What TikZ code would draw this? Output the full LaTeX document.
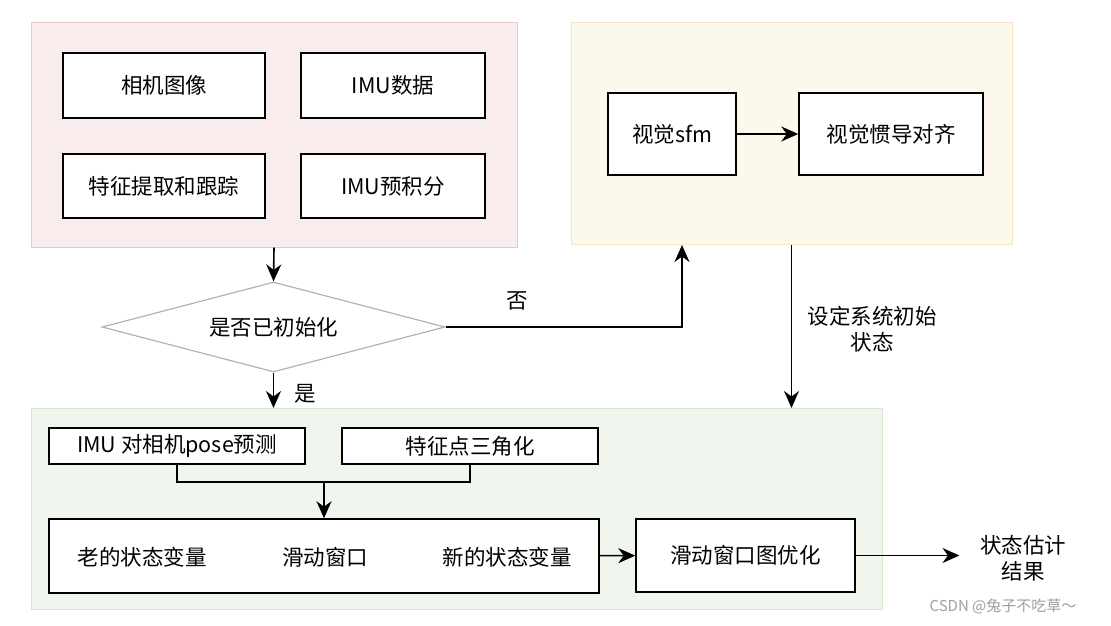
\documentclass[tikz,border=0pt]{standalone}
\usepackage{fontspec}
\setmainfont{Noto Sans CJK SC}
\usepackage{tikz}
\usetikzlibrary{arrows.meta,shapes.geometric,calc}
\definecolor{pinkfill}{RGB}{249,236,236}
\definecolor{pinkline}{RGB}{236,198,198}
\definecolor{yellowfill}{RGB}{253,248,236}
\definecolor{yellowline}{RGB}{246,229,196}
\definecolor{greenfill}{RGB}{240,246,238}
\definecolor{greenline}{RGB}{214,232,212}
\definecolor{diamondline}{RGB}{178,178,178}
\tikzstyle{panel}=[rectangle,draw,line width=1pt,inner sep=0pt]
\tikzstyle{block}=[rectangle,draw=black,fill=white,line width=1.5pt,inner sep=0pt]
\tikzstyle{decision}=[diamond,draw=diamondline,line width=1.2pt,inner sep=0pt,aspect=3.8,minimum width=343pt,minimum height=90pt]
\tikzstyle{edge} = [draw,line width=1.6pt,-{Stealth[length=17pt,width=15pt,inset=5.5pt]}]
\tikzstyle{link} = [draw,line width=1.6pt]
\tikzstyle{weight} = [align=center]

\begin{document}
\begin{tikzpicture}[x=1pt,y=-1pt,every node/.style={font=\fontsize{21.5}{26}\selectfont}]
    \useasboundingbox (0,0) rectangle (1111,625);
    % First we draw the three panels
    \foreach \pos/ \name/ \w/ \h/ \col in {{(274,134.5)/pink/486/225/pink},{(791.5,133.5)/yellow/441/222/yellow},{(456.5,509)/green/851/201/green}}
        \node[panel,draw=\col line,fill=\col fill,minimum width=\w,minimum height=\h] (\name) at \pos {};

    % Then the boxes inside them
    \foreach \pos/ \name/ \w/ \h/ \txt in {{(164,85.5)/camera/202/65/相机图像},{(393,85.5)/imu/184/65/IMU数据},
        {(164,186)/track/202/64/特征提取和跟踪},{(393,186)/preint/184/64/IMU预积分},
        {(672,134)/sfm/128/82/视觉sfm},{(891,134)/align/184/82/视觉惯导对齐},
        {(177,446)/pose/256/36/IMU 对相机pose预测},{(470,446)/tri/256/36/特征点三角化},
        {(324,556)/window/550/74/{}},{(745.5,555.5)/opt/219/73/滑动窗口图优化}}
        \node[block,minimum width=\w,minimum height=\h] (\name) at \pos {\txt};

    \foreach \x/ \name/ \txt in {142/oldstate/老的状态变量, 325/slide/滑动窗口, 507/newstate/新的状态变量}
        \node (\name) at (\x,557) {\txt};

    \node[decision] (init) at (273.5,327) {是否已初始化};

    % Connect the boxes
    \coordinate (noup) at (682,245);
    \coordinate (join) at (324,482);
    \path[edge] (pink.south) -- (init.north);
    \path[edge] (init.south) -- (init.south |- green.north);
    \node (yes) at (305,394) {是};
    \path[edge] (init.east) -| (noup);
    \node (no) at (517,301) {否};
    \path[edge] (sfm) -- (align);
    \path[edge] (yellow.south) -- (yellow.south |- green.north);
    \node[weight] (setstate) at (872,329) {设定系统初始\\状态};
    \path[link] (pose.south) |- (join) -| (tri.south);
    \path[edge] (join) -- (window.north);
    \path[edge] (window) -- (opt);
    \node[weight] (result) at (1023,558) {状态估计\\结果};
    \path[edge, shorten >=17pt] (opt.east) -- (opt.east -| result.west);

    \node[text=black!38,font=\fontsize{15}{18}\selectfont] (mark) at (1003,606) {CSDN @兔子不吃草～};
\end{tikzpicture}
\end{document}
